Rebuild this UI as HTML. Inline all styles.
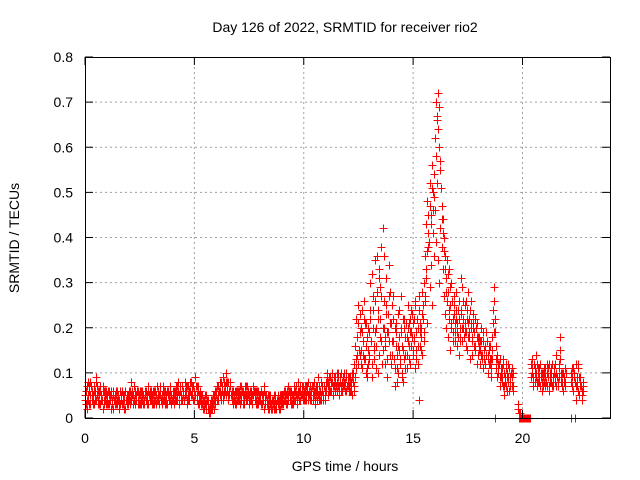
<!DOCTYPE html>
<html><head><meta charset="utf-8"><style>
html,body{margin:0;padding:0;background:#fff;}
svg{display:block;font-family:"Liberation Sans",sans-serif;}
</style></head><body>
<svg id="chart" width="640" height="480" viewBox="0 0 640 480">
<rect width="640" height="480" fill="#fff"/>
<text x="345" y="32" font-size="14" text-anchor="middle" fill="#000">Day 126 of 2022, SRMTID for receiver rio2</text>
<text x="345" y="471" font-size="14" text-anchor="middle" fill="#000">GPS time / hours</text>
<text transform="translate(19,238) rotate(-90)" font-size="14" text-anchor="middle" fill="#000">SRMTID / TECUs</text>
<g id="grid"></g>
<g id="marks"></g>
<g id="axes"></g>
</svg>
<script>
const xTicks=[0,5,10,15,20];
const yTicks=[0,0.1,0.2,0.3,0.4,0.5,0.6,0.7,0.8];
const yTickLabels=["0","0.1","0.2","0.3","0.4","0.5","0.6","0.7","0.8"];
const startHourAB=0;
const startHourC=0.025;
const stepHours=0.05;
const srmtidA=[
.05,.03,.07,.04,.06,.08,.04,.05,.03,.06,.09,.05,.04,.06,.03,.05,.07,.04,.05,.03,
.04,.06,.03,.05,.02,.04,.06,.05,.03,.04,.05,.02,.06,.04,.03,.05,.04,.06,.03,.05,
.04,.06,.08,.05,.03,.04,.06,.05,.04,.03,.05,.04,.06,.03,.04,.05,.06,.04,.03,.05,
.04,.05,.03,.06,.04,.05,.07,.04,.03,.05,.04,.06,.05,.03,.04,.06,.05,.04,.07,.05,
.04,.06,.05,.07,.04,.08,.05,.06,.04,.07,.05,.08,.06,.04,.07,.05,.06,.08,.05,.04,
.06,.09,.05,.07,.04,.06,.03,.05,.02,.04,.03,.05,.02,.01,.03,.02,.04,.03,.05,.04,
.06,.04,.07,.05,.08,.06,.09,.05,.07,.10,.06,.08,.05,.07,.04,.06,.05,.03,.05,.04,
.06,.04,.05,.07,.03,.05,.06,.04,.07,.05,.03,.06,.04,.05,.07,.04,.06,.05,.03,.05,
.04,.06,.03,.05,.07,.04,.03,.05,.02,.04,.03,.02,.04,.03,.05,.02,.04,.03,.05,.04,
.03,.05,.04,.06,.03,.05,.07,.04,.06,.05,.03,.06,.04,.07,.05,.08,.04,.06,.05,.07,
.05,.07,.04,.06,.08,.05,.07,.06,.04,.08,.06,.05,.07,.09,.05,.06,.04,.07,.05,.06,
.08,.10,.07,.09,.06,.08,.10,.07,.09,.08,.06,.09,.07,.08,.10,.06,.09,.07,.08,.06,
.07,.09,.06,.08,.05,.10,.12,.16,.22,.18,.25,.14,.20,.11,.17,.26,.13,.21,.09,.15,
.19,.30,.12,.24,.16,.35,.20,.28,.10,.33,.22,.38,.15,.26,.18,.31,.13,.23,.17,.28,
.21,.14,.27,.11,.19,.08,.16,.24,.12,.20,.09,.15,.22,.11,.18,.25,.13,.19,.16,.23,
.21,.17,.26,.13,.20,.24,.19,.15,.28,.22,.30,.36,.43,.48,.41,.52,.45,.56,.50,.54,
.62,.70,.67,.72,.60,.55,.47,.44,.40,.36,.31,.35,.28,.33,.25,.30,.22,.27,.19,.24,
.21,.18,.26,.17,.23,.29,.20,.25,.16,.22,.28,.19,.24,.21,.17,.23,.19,.15,.21,.17,
.18,.15,.20,.14,.17,.13,.16,.19,.14,.12,.16,.13,.18,.24,.29,.19,.11,.14,.10,.13,
.09,.11,.07,.10,.08,.12,.06,.09,.11,.08,.07,.10,null,null,null,null,.02,.01,0,0,
0,0,0,0,0,0,0,0,.12,.10,.08,.11,.09,.07,.10,.08,.12,.09,.06,.10,
.08,.11,.07,.09,.12,.08,.10,.07,.09,.11,.08,.10,.07,.09,.13,.08,.10,.06,.09,.08,
null,null,null,null,.10,.07,.11,.09,0,.12,.08,.06,.09,.07,.04,.08
];
const srmtidB=[
.04,.06,.02,.05,.07,.03,.06,.04,.07,.05,.04,.07,.03,.05,.06,.04,.02,.06,.04,.06,
.05,.03,.06,.04,.05,.03,.02,.04,.06,.03,.05,.04,.03,.05,.06,.03,.05,.02,.04,.03,
.05,.03,.04,.06,.05,.07,.03,.04,.06,.05,.03,.06,.04,.05,.03,.06,.04,.05,.07,.04,
.06,.03,.05,.04,.06,.03,.04,.06,.05,.07,.03,.04,.06,.04,.05,.03,.06,.05,.04,.03,
.05,.03,.06,.04,.05,.06,.03,.07,.05,.04,.06,.05,.07,.03,.05,.04,.08,.05,.06,.07,
.04,.05,.07,.03,.05,.04,.05,.03,.04,.02,.05,.03,.04,.02,.01,.04,.03,.05,.02,.06,
.05,.07,.04,.06,.05,.07,.04,.08,.06,.05,.08,.04,.06,.07,.05,.03,.04,.06,.03,.06,
.04,.06,.03,.05,.06,.04,.07,.05,.04,.06,.05,.04,.06,.03,.05,.06,.04,.03,.06,.04,
.05,.03,.05,.04,.02,.05,.04,.03,.05,.03,.02,.04,.03,.05,.02,.03,.05,.04,.02,.05,
.04,.03,.06,.04,.05,.03,.05,.06,.04,.03,.05,.04,.06,.05,.03,.05,.06,.04,.07,.05,
.06,.04,.05,.07,.04,.06,.05,.04,.07,.05,.03,.06,.04,.05,.07,.04,.05,.06,.04,.05,
.06,.08,.05,.07,.09,.06,.08,.05,.07,.09,.10,.07,.05,.09,.06,.08,.07,.10,.06,.09,
.08,.06,.09,.07,.10,.08,.06,.09,.11,.14,.12,.19,.15,.24,.17,.13,.21,.10,.18,.12,
.14,.22,.09,.27,.15,.19,.11,.36,.24,.14,.29,.17,.42,.20,.12,.25,.09,.19,.34,.14,
.12,.25,.17,.07,.21,.14,.10,.18,.13,.27,.16,.08,.20,.14,.11,.17,.21,.12,.24,.18,
.15,.22,.11,.19,.16,.04,.21,.18,.14,.25,.17,.27,.33,.21,.38,.29,.34,.25,.41,.36,
.46,.39,.52,.35,.30,.42,.38,.33,.27,.23,.20,.26,.18,.22,.15,.20,.17,.25,.21,.28,
.16,.24,.14,.20,.31,.17,.22,.19,.26,.15,.21,.18,.13,.26,.14,.20,.16,.22,.12,.18,
.15,.12,.17,.13,.11,.15,.12,.14,.10,.16,.12,.09,.13,.21,.26,0,.13,.09,.12,.07,
.11,.08,.13,.05,.09,.07,.10,.12,.06,.09,.11,.07,null,null,null,null,.03,0,.01,0,
0,0,0,0,0,0,0,0,.09,.13,.07,.10,.14,.08,.11,.09,.07,.10,.08,.09,
.10,.07,.12,.09,.06,.10,.08,.12,.07,.10,.09,.14,.08,.11,.18,.09,.07,.10,.08,.11,
null,null,null,null,0,.09,.06,.10,.08,.04,.07,.11,.05,.09,.06,.07
];
const srmtidC=[
.06,.04,.08,.03,.05,.07,.05,.03,.06,.04,.08,.06,.03,.07,.05,.04,.06,.03,.06,.05,
.03,.05,.04,.06,.03,.05,.04,.03,.05,.06,.04,.03,.05,.06,.04,.02,.06,.04,.05,.04,
.06,.04,.05,.03,.07,.05,.04,.06,.03,.05,.06,.03,.05,.04,.06,.04,.03,.06,.05,.06,
.05,.04,.06,.03,.05,.07,.05,.03,.06,.04,.05,.07,.04,.06,.03,.05,.04,.06,.05,.04,
.06,.05,.04,.06,.07,.05,.06,.04,.07,.06,.04,.06,.05,.07,.04,.06,.05,.07,.04,.06,
.05,.07,.04,.06,.03,.05,.04,.02,.03,.05,.02,.04,.03,.01,.02,.03,.02,.04,.03,.05,
.07,.05,.06,.08,.04,.07,.05,.06,.08,.07,.05,.06,.08,.05,.06,.04,.05,.04,.06,.05,
.05,.07,.04,.06,.05,.03,.05,.07,.05,.04,.06,.05,.03,.05,.06,.05,.03,.06,.04,.05,
.03,.05,.04,.06,.03,.05,.04,.02,.04,.05,.03,.04,.02,.04,.03,.04,.03,.02,.04,.03,
.05,.04,.05,.03,.06,.04,.06,.05,.03,.05,.04,.07,.05,.04,.06,.04,.07,.05,.06,.04,
.04,.06,.07,.05,.06,.04,.06,.07,.05,.06,.04,.07,.06,.04,.06,.08,.06,.05,.07,.04,
.07,.09,.08,.06,.08,.10,.07,.09,.06,.07,.08,.10,.06,.08,.07,.09,.08,.06,.10,.07,
.09,.07,.08,.06,.09,.07,.09,.13,.18,.21,.15,.23,.12,.19,.14,.22,.16,.11,.20,.13,
.24,.17,.32,.20,.13,.26,.16,.22,.31,.18,.27,.12,.20,.36,.16,.23,.19,.27,.21,.12,
.17,.22,.13,.20,.16,.11,.23,.15,.19,.10,.22,.13,.18,.21,.14,.20,.16,.22,.19,.14,
.18,.25,.15,.22,.12,.27,.16,.20,.23,.19,.26,.31,.37,.45,.39,.47,.43,.51,.46,.49,
.58,.66,.64,.69,.57,.51,.44,.41,.37,.33,.28,.32,.24,.29,.21,.26,.19,.23,.17,.22,
.19,.22,.18,.24,.20,.26,.18,.21,.19,.24,.18,.22,.20,.18,.21,.19,.16,.20,.18,.14,
.16,.17,.14,.19,.15,.12,.14,.17,.13,.15,.13,.11,.15,.19,.22,.16,.13,.11,.12,.09,
.10,.09,.12,.07,.11,.09,.08,.11,.07,.10,.09,.06,null,null,null,null,.01,0,0,0,
0,0,0,0,0,0,0,.09,.11,.09,.12,.08,.10,.12,.08,.11,.09,.10,.07,.11,
.09,.08,.10,.11,.07,.09,.11,.08,.10,.12,.07,.09,.08,.12,.15,.10,.08,.09,.07,.10,
null,null,null,null,.08,.11,.06,.10,.07,.09,.12,.05,.08,.07,.05,.06
];
const PL=85,PR=610,PT=57,PB=418,XMAX=24,YMAX=0.8;
function xs(h){return PL+(h/XMAX)*(PR-PL);}
function ys(v){return PB-(v/YMAX)*(PB-PT);}
const NS="http://www.w3.org/2000/svg";
function mk(tag,attrs,parent){const e=document.createElementNS(NS,tag);for(const k in attrs)e.setAttribute(k,attrs[k]);parent.appendChild(e);return e;}
const grid=document.getElementById('grid'),axes=document.getElementById('axes'),marks=document.getElementById('marks');
yTicks.forEach((v,i)=>{
  const y=ys(v);
  if(i>0&&i<yTicks.length-1){const g=mk('line',{x1:PL,x2:PR,y1:y,y2:y,stroke:'#a0a0a0','stroke-width':1,'stroke-dasharray':'2,3'},grid);
  
  }
  const t1=mk('line',{x1:PL,x2:PL+8,y1:y,y2:y,stroke:'#000'},axes);
  
  
  const t2=mk('line',{x1:PR-8,x2:PR,y1:y,y2:y,stroke:'#000'},axes);
  
  
  const lb=mk('text',{x:PL-12,y:y+5,'font-size':14,'text-anchor':'end',fill:'#000'},axes);
  lb.textContent=yTickLabels[i];
  
  
});
xTicks.forEach((h,i)=>{
  const x=xs(h);
  if(i>0){const g=mk('line',{x1:x,x2:x,y1:PT,y2:PB,stroke:'#a0a0a0','stroke-width':1,'stroke-dasharray':'2,3'},grid);
  
  }
  const t1=mk('line',{x1:x,x2:x,y1:PB-8,y2:PB,stroke:'#000'},axes);
  
  
  const t2=mk('line',{x1:x,x2:x,y1:PT,y2:PT+8,stroke:'#000'},axes);
  
  
  const lb=mk('text',{x:x,y:PB+25,'font-size':14,'text-anchor':'middle',fill:'#000'},axes);
  lb.textContent=String(h);
  
  
});
const border=mk('rect',{x:PL+0.5,y:PT+0.5,width:PR-PL,height:PB-PT,fill:'none',stroke:'#000'},axes);


function plotSeries(arr,start,color,name){
  let d='';
  arr.forEach((v,i)=>{
    if(v===null)return;
    const x=Math.round(xs(start+i*stepHours))+0.5,y=Math.round(ys(v))+0.5;
    d+='M'+(x-4)+' '+y+'h8M'+x+' '+(y-4)+'v8';
  });
  const p=mk('path',{d:d,stroke:color,'stroke-width':1,fill:'none'},marks);
  
  
}
plotSeries(srmtidB,startHourAB,'#ff0000','series-b-points');
plotSeries(srmtidC,startHourC,'#ff0000','series-c-points');
plotSeries(srmtidA,startHourAB,'#ff0000','series-a-points');
</script>
</body></html>
